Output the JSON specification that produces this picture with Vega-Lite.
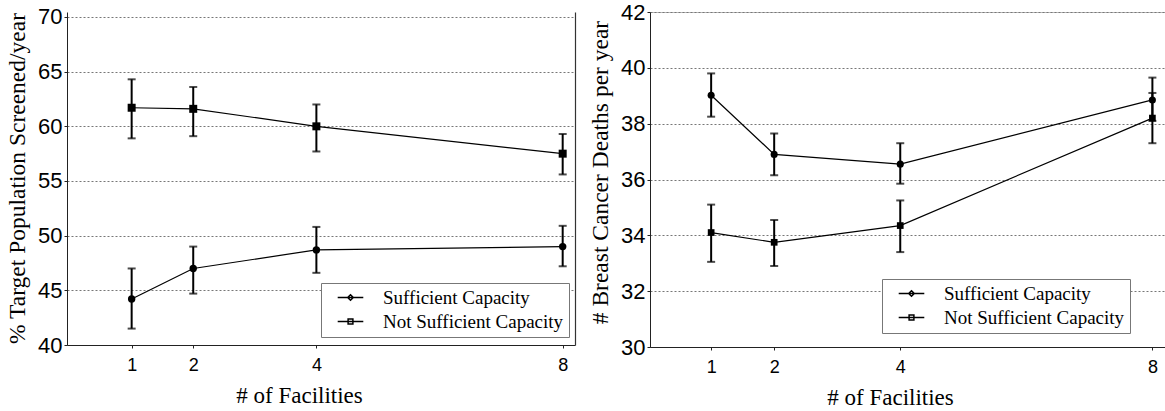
{
  "$schema": "https://vega.github.io/schema/vega-lite/v6.json",
  "background": "white",
  "padding": {"left": 5, "top": 0, "right": 0, "bottom": 0},
  "spacing": 13,
  "config": {
    "view": {"stroke": null},
    "axis": {
      "labelFont": "Liberation Sans",
      "titleFont": "Liberation Serif",
      "labelColor": "black",
      "titleColor": "black",
      "titleFontWeight": "normal",
      "domainColor": "#222",
      "tickColor": "#222",
      "gridColor": "#777",
      "gridDash": [2, 2]
    },
    "legend": {
      "labelFont": "Liberation Serif",
      "labelFontSize": 19,
      "labelColor": "black",
      "labelLimit": 400,
      "fillColor": "white",
      "strokeColor": "#777",
      "padding": 5,
      "rowPadding": 4,
      "symbolSize": 256,
      "symbolOffset": 15,
      "labelOffset": 23,
      "symbolStrokeWidth": 1.5,
      "symbolOpacity": 1
    }
  },
  "resolve": {
    "scale": {"x": "independent", "y": "independent", "shape": "independent"},
    "legend": {"shape": "independent"}
  },
  "hconcat": [
    {
      "width": 508,
      "height": 333,
      "data": {
        "values": [
          {"series": "Sufficient Capacity", "x": 1, "y": 44.2, "lo": 41.5, "hi": 47.0},
          {"series": "Sufficient Capacity", "x": 2, "y": 47.0, "lo": 44.7, "hi": 49.0},
          {"series": "Sufficient Capacity", "x": 4, "y": 48.7, "lo": 46.6, "hi": 50.8},
          {"series": "Sufficient Capacity", "x": 8, "y": 49.0, "lo": 47.2, "hi": 50.9},
          {"series": "Not Sufficient Capacity", "x": 1, "y": 61.7, "lo": 58.9, "hi": 64.3},
          {"series": "Not Sufficient Capacity", "x": 2, "y": 61.6, "lo": 59.1, "hi": 63.6},
          {"series": "Not Sufficient Capacity", "x": 4, "y": 60.0, "lo": 57.7, "hi": 62.0},
          {"series": "Not Sufficient Capacity", "x": 8, "y": 57.5, "lo": 55.6, "hi": 59.3}
        ]
      },
      "resolve": {"axis": {"y": "independent"}},
      "encoding": {
        "x": {
          "field": "x", "type": "quantitative",
          "scale": {"domain": [-0.05, 8.2], "nice": false, "zero": false},
          "axis": {"values": [1, 2, 4, 8], "grid": false, "title": "# of Facilities", "titleFontSize": 23, "labelFontSize": 18, "tickSize": 3, "labelPadding": 8, "titlePadding": 10, "titleX": 232}
        }
      },
      "layer": [
        {
          "mark": {"type": "line", "color": "black", "strokeWidth": 1.2},
          "encoding": {
            "y": {"field": "y", "type": "quantitative", "title": "% Target Population Screened/year",
              "scale": {"domain": [40, 70.457], "nice": false, "zero": false},
              "axis": {"values": [40, 45, 50, 55, 60, 65, 70], "grid": true, "labelFontSize": 22, "titleFontSize": 23.5, "tickSize": 3, "labelPadding": 2, "titlePadding": 8, "titleY": 166}},
            "detail": {"field": "series"}
          }
        },
        {
          "mark": {"type": "rule", "color": "black", "strokeWidth": 2},
          "encoding": {
            "y": {"field": "lo", "type": "quantitative", "axis": null},
            "y2": {"field": "hi"}
          }
        },
        {
          "mark": {"type": "tick", "orient": "horizontal", "color": "black", "thickness": 2, "size": 8},
          "encoding": {"y": {"field": "lo", "type": "quantitative", "axis": null}}
        },
        {
          "mark": {"type": "tick", "orient": "horizontal", "color": "black", "thickness": 2, "size": 8},
          "encoding": {"y": {"field": "hi", "type": "quantitative", "axis": {"orient": "right", "labels": false, "ticks": false, "grid": false, "title": null, "domainColor": "#333", "domainWidth": 1.2}}}
        },
        {
          "transform": [{"filter": "datum.series === 'Sufficient Capacity'"}],
          "mark": {"type": "point", "shape": "circle", "filled": true, "color": "black", "size": 55, "opacity": 1},
          "encoding": {"y": {"field": "y", "type": "quantitative", "axis": null}}
        },
        {
          "transform": [{"filter": "datum.series === 'Not Sufficient Capacity'"}],
          "mark": {"type": "point", "shape": "square", "filled": true, "color": "black", "size": 64, "opacity": 1},
          "encoding": {"y": {"field": "y", "type": "quantitative", "axis": null}}
        },
        {
          "mark": {"type": "point", "opacity": 0, "filled": false, "color": "black", "strokeWidth": 1.5},
          "encoding": {
            "y": {"field": "y", "type": "quantitative", "axis": null},
            "shape": {
              "field": "series", "type": "nominal",
              "scale": {"domain": ["Sufficient Capacity", "Not Sufficient Capacity"], "range": ["M-1.6,0H1.6M0,-0.35L0.35,0L0,0.35L-0.35,0Z", "M-1.6,0H1.6M-0.3,-0.3H0.3V0.3H-0.3Z"]},
              "legend": {
                "title": null, "orient": "none", "legendX": 254, "legendY": 271,
                "labelFont": "Liberation Serif", "labelFontSize": 19, "labelLimit": 400,
                "strokeColor": "#777",
                "symbolStrokeWidth": 1.5, "symbolOpacity": 1, "symbolSize": 256,
                "encode": {
                  "legend": {"update": {"strokeDash": {"value": [2, 2]}}}
                }
              }
            }
          }
        }
      ]
    },
    {
      "width": 515,
      "height": 335,
      "view": {"stroke": "#bbb"},
      "data": {
        "values": [
          {"series": "Sufficient Capacity", "x": 1, "y": 39.02, "lo": 38.25, "hi": 39.8},
          {"series": "Sufficient Capacity", "x": 2, "y": 36.9, "lo": 36.15, "hi": 37.65},
          {"series": "Sufficient Capacity", "x": 4, "y": 36.55, "lo": 35.85, "hi": 37.3},
          {"series": "Sufficient Capacity", "x": 8, "y": 38.85, "lo": 38.1, "hi": 39.65},
          {"series": "Not Sufficient Capacity", "x": 1, "y": 34.1, "lo": 33.05, "hi": 35.1},
          {"series": "Not Sufficient Capacity", "x": 2, "y": 33.75, "lo": 32.9, "hi": 34.55},
          {"series": "Not Sufficient Capacity", "x": 4, "y": 34.35, "lo": 33.4, "hi": 35.25},
          {"series": "Not Sufficient Capacity", "x": 8, "y": 38.2, "lo": 37.3, "hi": 39.1}
        ]
      },
      "encoding": {
        "x": {
          "field": "x", "type": "quantitative",
          "scale": {"domain": [0.03, 8.2], "nice": false, "zero": false},
          "axis": {"values": [1, 2, 4, 8], "grid": false, "title": "# of Facilities", "titleFontSize": 23, "labelFontSize": 18, "tickSize": 3, "labelPadding": 8, "titlePadding": 10, "titleX": 240}
        }
      },
      "layer": [
        {
          "mark": {"type": "line", "color": "black", "strokeWidth": 1.2},
          "encoding": {
            "y": {"field": "y", "type": "quantitative", "title": "# Breast Cancer Deaths per year",
              "scale": {"domain": [30, 42], "nice": false, "zero": false},
              "axis": {"values": [30, 32, 34, 36, 38, 40, 42], "grid": true, "labelFontSize": 22, "titleFontSize": 23.5, "tickSize": 3, "labelPadding": 2, "titlePadding": 8, "titleY": 160}},
            "detail": {"field": "series"}
          }
        },
        {
          "mark": {"type": "rule", "color": "black", "strokeWidth": 2},
          "encoding": {
            "y": {"field": "lo", "type": "quantitative", "title": "# Breast Cancer Deaths per year"},
            "y2": {"field": "hi"}
          }
        },
        {
          "mark": {"type": "tick", "orient": "horizontal", "color": "black", "thickness": 2, "size": 8},
          "encoding": {"y": {"field": "lo", "type": "quantitative", "title": "# Breast Cancer Deaths per year"}}
        },
        {
          "mark": {"type": "tick", "orient": "horizontal", "color": "black", "thickness": 2, "size": 8},
          "encoding": {"y": {"field": "hi", "type": "quantitative", "title": "# Breast Cancer Deaths per year"}}
        },
        {
          "transform": [{"filter": "datum.series === 'Sufficient Capacity'"}],
          "mark": {"type": "point", "shape": "circle", "filled": true, "color": "black", "size": 50, "opacity": 1},
          "encoding": {"y": {"field": "y", "type": "quantitative", "title": "# Breast Cancer Deaths per year"}}
        },
        {
          "transform": [{"filter": "datum.series === 'Not Sufficient Capacity'"}],
          "mark": {"type": "point", "shape": "square", "filled": true, "color": "black", "size": 45, "opacity": 1},
          "encoding": {"y": {"field": "y", "type": "quantitative", "title": "# Breast Cancer Deaths per year"}}
        },
        {
          "mark": {"type": "point", "opacity": 0, "filled": false, "color": "black", "strokeWidth": 1.5},
          "encoding": {
            "y": {"field": "y", "type": "quantitative", "title": "# Breast Cancer Deaths per year"},
            "shape": {
              "field": "series", "type": "nominal",
              "scale": {"domain": ["Sufficient Capacity", "Not Sufficient Capacity"], "range": ["M-1.6,0H1.6M0,-0.35L0.35,0L0,0.35L-0.35,0Z", "M-1.6,0H1.6M-0.3,-0.3H0.3V0.3H-0.3Z"]},
              "legend": {
                "title": null, "orient": "none", "legendX": 232, "legendY": 267,
                "labelFont": "Liberation Serif", "labelFontSize": 19, "labelLimit": 400,
                "strokeColor": "#777",
                "symbolStrokeWidth": 1.5, "symbolOpacity": 1, "symbolSize": 256,
                "encode": {
                  "legend": {"update": {"strokeDash": {"value": [2, 2]}}}
                }
              }
            }
          }
        }
      ]
    }
  ]
}
